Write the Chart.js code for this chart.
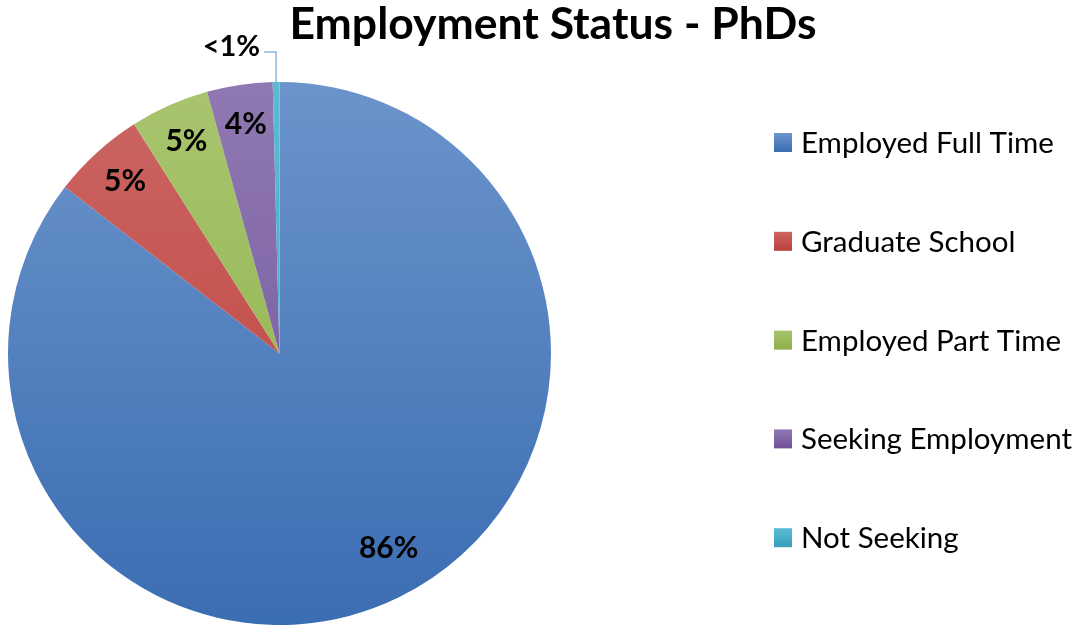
<!DOCTYPE html>
<html>
<head>
<meta charset="utf-8">
<script src="https://cdn.jsdelivr.net/npm/chart.js@4.4.1/dist/chart.umd.min.js"></script>
<style>
  html, body { margin: 0; padding: 0; background: #ffffff; }
  #wrap { width: 1078px; height: 625px; position: relative; }
</style>
</head>
<body>
<div id="wrap"><canvas id="c" width="1078" height="625"></canvas></div>
<script>
const titleText = 'Employment Status - PhDs';
const categories = ['Employed Full Time', 'Graduate School', 'Employed Part Time', 'Seeking Employment', 'Not Seeking'];
const values = [85.5, 5.5, 4.7, 3.9, 0.4];
const valueLabels = ['86%', '5%', '5%', '4%', '<1%'];
const colorsTop = ['#6b94cb', '#cb6663', '#a8c56e', '#9079b2', '#5cbbd3'];
const colorsBottom = ['#3b6db2', '#bd3f3b', '#8daf48', '#6f5199', '#37a0bb'];

const FONT = 'Lato, "Open Sans", sans-serif';

function sliceGradient(ctx, area, i) {
  const g = ctx.createLinearGradient(0, area.top, 0, area.bottom);
  g.addColorStop(0, colorsTop[i]);
  g.addColorStop(1, colorsBottom[i]);
  return g;
}

const overlay = {
  id: 'overlay',
  afterDatasetsDraw(chart) {
    const ctx = chart.ctx;
    const meta = chart.getDatasetMeta(0);
    ctx.save();
    ctx.fillStyle = '#000';
    ctx.textAlign = 'center';
    ctx.textBaseline = 'middle';
    meta.data.forEach((arc, i) => {
      const p = arc.getProps(['x', 'y', 'startAngle', 'endAngle', 'outerRadius'], true);
      const mid = (p.startAngle + p.endAngle) / 2;
      if (i === values.length - 1) {
        const ex = p.x + Math.cos(mid) * p.outerRadius;
        const ey = p.y + Math.sin(mid) * p.outerRadius;
        const ly = p.y - p.outerRadius - 30;
        ctx.strokeStyle = '#8db3e2';
        ctx.lineWidth = 1.5;
        ctx.beginPath();
        ctx.moveTo(ex, ey);
        ctx.lineTo(ex, ly);
        ctx.lineTo(ex - 12, ly);
        ctx.stroke();
        ctx.font = 'bold 29px ' + FONT;
        ctx.textAlign = 'right';
        ctx.fillText(valueLabels[i], ex - 16, ly - 5);
        ctx.textAlign = 'center';
      } else {
        ctx.font = 'bold 30px ' + FONT;
        const r = p.outerRadius * (i === 0 ? 0.83 : 0.845);
        const ang = i === 0 ? mid - 0.05 : mid;
        ctx.fillText(valueLabels[i], p.x + Math.cos(ang) * r, p.y + Math.sin(ang) * r - 2);
      }
    });
    // title
    ctx.font = 'bold 44.5px ' + FONT;
    ctx.textAlign = 'center';
    ctx.textBaseline = 'alphabetic';
    ctx.fillText(titleText, 553, 39);
    // legend
    ctx.font = '29.5px ' + FONT;
    ctx.textAlign = 'left';
    ctx.textBaseline = 'middle';
    categories.forEach((name, i) => {
      const cy = 142.5 + i * 98.8;
      const g = ctx.createLinearGradient(0, cy - 9.5, 0, cy + 9.5);
      g.addColorStop(0, colorsTop[i]);
      g.addColorStop(1, colorsBottom[i]);
      ctx.fillStyle = g;
      ctx.fillRect(774, cy - 9.5, 18, 19);
      ctx.fillStyle = '#000';
      ctx.fillText(name, 801, cy + 1);
    });
    ctx.restore();
  }
};

new Chart(document.getElementById('c'), {
  type: 'pie',
  data: {
    labels: categories,
    datasets: [{
      data: values,
      backgroundColor: (c) => {
        const area = c.chart.chartArea;
        if (!area) return colorsTop[c.dataIndex];
        return sliceGradient(c.chart.ctx, area, c.dataIndex);
      },
      borderWidth: 0
    }]
  },
  options: {
    responsive: false,
    devicePixelRatio: 1,
    animation: false,
    layout: { padding: { left: 8, top: 82, right: 527, bottom: 0 } },
    plugins: {
      legend: { display: false },
      title: { display: false },
      tooltip: { enabled: false }
    }
  },
  plugins: [overlay]
});
</script>
</body>
</html>
